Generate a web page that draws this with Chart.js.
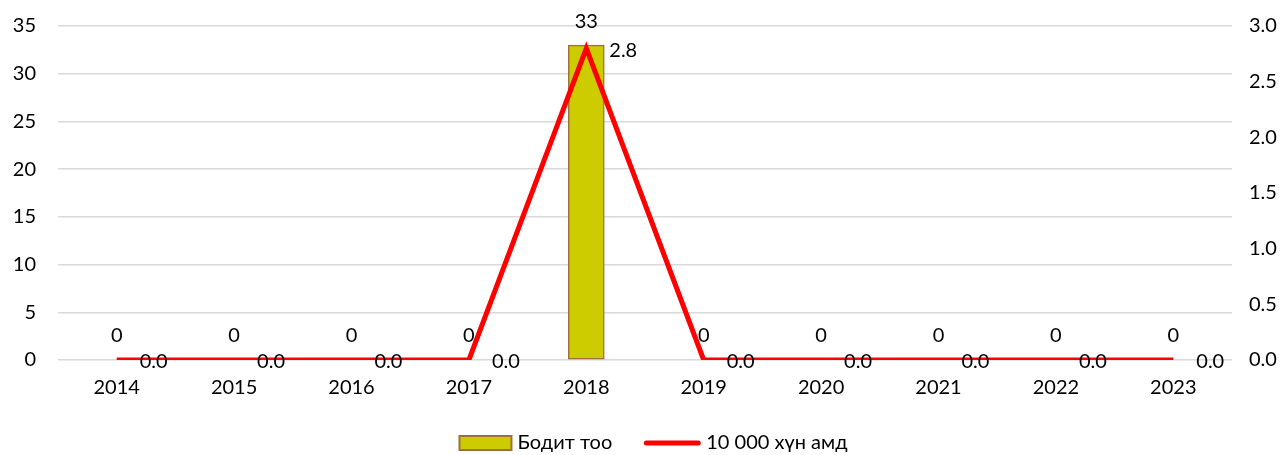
<!DOCTYPE html>
<html>
<head>
<meta charset="utf-8">
<script src="https://cdn.jsdelivr.net/npm/chart.js@4/dist/chart.umd.min.js"></script>
<style>
  html, body { margin: 0; padding: 0; background: #fff; }
  #wrap { width: 1287px; height: 455px; position: relative; }
</style>
</head>
<body>
<div id="wrap"><canvas id="c"></canvas></div>
<script>
const categories = ['2014','2015','2016','2017','2018','2019','2020','2021','2022','2023'];
const countValues = [0, 0, 0, 0, 33, 0, 0, 0, 0, 0];
const rateValues = [0.0, 0.0, 0.0, 0.0, 2.8, 0.0, 0.0, 0.0, 0.0, 0.0];
const leftTicks = [0, 5, 10, 15, 20, 25, 30, 35];
const rightTicks = [0.0, 0.5, 1.0, 1.5, 2.0, 2.5, 3.0];
const seriesNames = ['Бодит тоо', '10 000 хүн амд'];

const FONT = 'Lato, "Noto Sans", sans-serif';
const FS = 20;
const BAR_FILL = '#cccc00';
const BAR_EDGE = '#a0703a';
const LINE_COLOR = '#ff0000';

const labelPlugin = {
  id: 'valueLabels',
  afterDatasetsDraw(chart) {
    const ctx = chart.ctx;
    ctx.save();
    ctx.font = FS + 'px ' + FONT;
    ctx.fillStyle = '#000';
    const barMeta = chart.getDatasetMeta(0);
    barMeta.data.forEach((el, i) => {
      ctx.textAlign = 'center';
      ctx.textBaseline = 'middle';
      ctx.fillText(String(countValues[i]), el.x, el.y - 24);
    });
    const lineMeta = chart.getDatasetMeta(1);
    lineMeta.data.forEach((el, i) => {
      ctx.textAlign = 'left';
      ctx.textBaseline = 'middle';
      ctx.fillText(rateValues[i].toFixed(1), el.x + 23, el.y + 2);
    });
    ctx.restore();
  }
};

const legendPlugin = {
  id: 'bottomLegend',
  afterDraw(chart) {
    const ctx = chart.ctx;
    ctx.save();
    ctx.font = FS + 'px ' + FONT;
    const w0 = ctx.measureText(seriesNames[0]).width;
    const w1 = ctx.measureText(seriesNames[1]).width;
    const boxW = 52, lineW = 56, gapT = 6, gapItem = 32;
    const total = boxW + gapT + w0 + gapItem + lineW + gapT + w1;
    let x = chart.width / 2 + 10 - total / 2;
    const y = 443;
    ctx.fillStyle = BAR_FILL;
    ctx.strokeStyle = BAR_EDGE;
    ctx.lineWidth = 2;
    ctx.fillRect(x, y - 7, boxW, 14);
    ctx.strokeRect(x, y - 7, boxW, 14);
    x += boxW + gapT;
    ctx.fillStyle = '#000';
    ctx.textAlign = 'left';
    ctx.textBaseline = 'middle';
    ctx.fillText(seriesNames[0], x, y);
    x += w0 + gapItem;
    ctx.strokeStyle = LINE_COLOR;
    ctx.lineWidth = 5;
    ctx.lineCap = 'round';
    ctx.beginPath();
    ctx.moveTo(x + 2, y);
    ctx.lineTo(x + lineW - 2, y);
    ctx.stroke();
    x += lineW + gapT;
    ctx.fillText(seriesNames[1], x, y);
    ctx.restore();
  }
};

new Chart(document.getElementById('c'), {
  type: 'bar',
  data: {
    labels: categories,
    datasets: [
      {
        type: 'bar',
        label: seriesNames[0],
        data: countValues,
        yAxisID: 'y',
        backgroundColor: BAR_FILL,
        borderColor: BAR_EDGE,
        borderWidth: 1.5,
        borderSkipped: false,
        barThickness: 36,
        order: 2
      },
      {
        type: 'line',
        label: seriesNames[1],
        data: rateValues,
        yAxisID: 'y1',
        borderColor: LINE_COLOR,
        backgroundColor: LINE_COLOR,
        borderWidth: 5,
        tension: 0,
        pointRadius: 0,
        pointHoverRadius: 0,
        borderJoinStyle: 'miter',
        order: 1
      }
    ]
  },
  options: {
    responsive: true,
    maintainAspectRatio: false,
    animation: false,
    layout: { padding: { top: 26, left: 0, right: 0, bottom: 0 } },
    plugins: {
      legend: { display: false },
      tooltip: { enabled: false }
    },
    scales: {
      x: {
        grid: { display: false, drawTicks: false },
        border: { display: false },
        ticks: { font: { family: FONT, size: FS }, color: '#000', padding: 16, maxRotation: 0 },
        afterFit(s) { s.height = 95; s.paddingLeft = 0; s.paddingRight = 0; }
      },
      y: {
        position: 'left',
        min: 0, max: 35,
        afterBuildTicks(s) { s.ticks = leftTicks.map(v => ({ value: v })); },
        grid: { color: '#d9d9d9', lineWidth: 1.5, drawTicks: false },
        border: { display: false },
        ticks: { font: { family: FONT, size: FS }, color: '#000', padding: 22 },
        afterFit(s) { s.width = 58; s.paddingTop = 0; s.paddingBottom = 0; }
      },
      y1: {
        position: 'right',
        min: 0, max: 3,
        afterBuildTicks(s) { s.ticks = rightTicks.map(v => ({ value: v })); },
        grid: { display: false, drawTicks: false },
        border: { display: false },
        ticks: { font: { family: FONT, size: FS }, color: '#000', padding: 17, callback: v => Number(v).toFixed(1) },
        afterFit(s) { s.width = 55; s.paddingTop = 0; s.paddingBottom = 0; }
      }
    }
  },
  plugins: [labelPlugin, legendPlugin]
});
</script>
</body>
</html>
